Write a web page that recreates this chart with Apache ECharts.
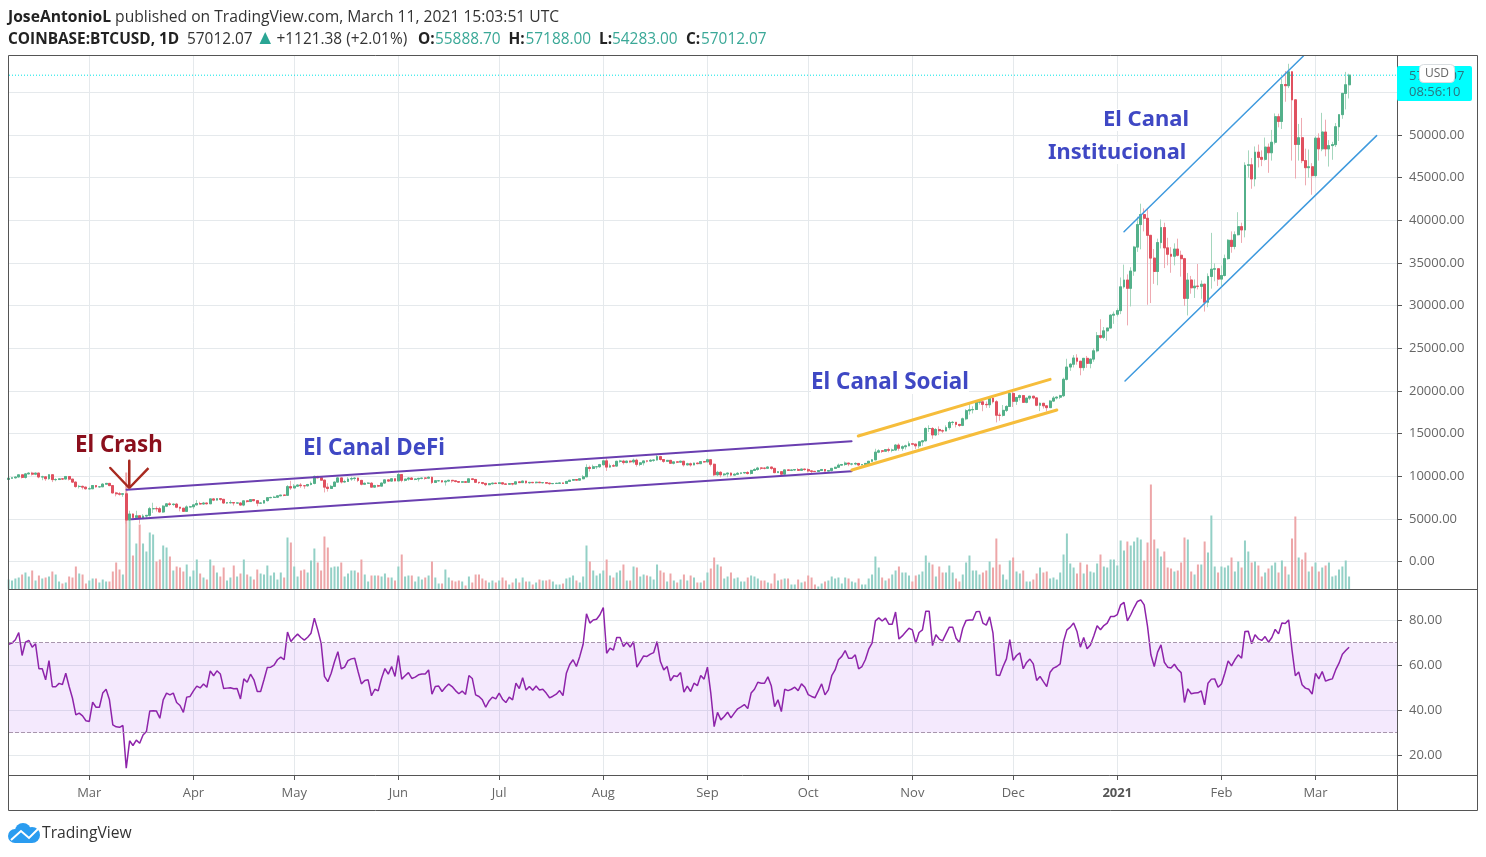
<!DOCTYPE html>
<html>
<head>
<meta charset="utf-8">
<title>COINBASE:BTCUSD</title>
<style>
  html, body { margin: 0; padding: 0; background: #fff; }
  #chart { width: 1486px; height: 857px; }
</style>
<script src="https://cdn.jsdelivr.net/npm/echarts@6/dist/echarts.min.js"></script>
</head>
<body>
<div id="chart"></div>
<script>
// days are counted from 1 Mar 2020, first candle is 6 Feb 2020
const firstDay = -24;
const firstOpen = 9620;

const closes = [
  9770,9810,9910,10160,9860,10270,10360,10240,10370,9910,9930,9710,10170,9600,9610,9690,9670,9970,9660,9310,8790,8810,8720,8530,
  8530,8910,8760,8760,9070,9160,8900,8040,7940,7890,7940,4860,5570,5170,5360,5040,5330,5410,6190,6200,6190,5810,6490,6760,6680,6730,6370,6250,5880,6400,6420,
  6640,6800,6740,6860,6770,7340,7200,7370,7290,6860,6890,6910,6860,6860,6620,7110,7030,7260,7130,6840,6850,7140,7480,7510,7540,7700,7790,7760,8780,8620,
  8830,8970,8890,8880,9030,9160,9980,9810,9540,8720,8560,8810,9310,9800,9320,9380,9670,9730,9780,9510,9060,9170,9180,8720,8900,8840,9200,9570,9430,9700,9450,
  10200,9520,9660,9790,9620,9670,9750,9780,9770,9880,9270,9470,9470,9330,9430,9520,9460,9380,9300,9350,9290,9690,9620,9290,9250,9160,9010,9120,9190,9140,
  9230,9090,9060,9130,9080,9340,9250,9430,9230,9280,9240,9300,9240,9250,9190,9130,9150,9170,9210,9160,9390,9530,9610,9540,9700,9930,11030,10910,11110,11110,11350,
  11800,11070,11230,11190,11750,11770,11600,11770,11680,11880,11390,11570,11790,11770,11870,11900,12300,11960,11750,11860,11520,11680,11650,11760,11330,11460,11320,11540,11470,11710,11680,
  11930,11400,10170,10460,10170,10260,10370,10130,10230,10340,10390,10440,10320,10680,10790,10960,10940,10930,11080,10920,10420,10530,10240,10740,10690,10730,10780,10690,10840,10780,
  10620,10570,10550,10670,10790,10600,10670,10920,11050,11300,11370,11540,11430,11430,11500,11320,11360,11500,11750,11920,12820,12980,12930,13120,13040,13070,13650,13280,13460,13560,13800,
  13760,13560,14030,14150,15590,15590,14840,15480,15330,15300,15700,16300,16320,16070,15960,16730,17680,17790,17820,18680,18720,18420,18380,19160,18730,17150,17140,17720,18180,19700,
  18780,19230,19450,18660,19160,19380,19180,18320,18550,18250,18040,18810,19170,19270,19440,21360,22800,23130,23860,23480,22730,23820,23230,23730,24700,26480,26280,27040,27370,28880,28990,
  29410,32200,33000,32030,34050,36860,39500,40670,40240,38240,35570,34000,37390,39150,36770,36020,35790,36630,35900,35500,30850,33000,32090,32280,32260,32510,30400,33420,34270,34320,33110,
  33530,35510,37660,36930,38310,39260,38870,46450,46510,44850,47990,47380,47150,48580,47920,49150,52150,51590,55920,55780,57410,54120,48890,49680,47000,46170,46280,45240,
  49630,48380,50350,48370,48760,48870,50970,52390,54880,55890,57012
];

const highs = [
  9860,9870,9950,10170,10190,10380,10480,10520,10400,10390,10060,9990,10250,10200,9760,9740,9720,10000,10000,9670,9370,8980,8900,8780,
  8770,8950,8920,8840,9180,9170,9190,8900,8170,8140,7980,7960,5960,5640,5950,5370,5550,5450,6400,6890,6450,6400,6610,6850,6960,6790,6870,6270,6280,6590,6530,
  6680,7200,7000,6990,6880,7370,7450,7390,7380,7300,6950,7180,6930,6980,6940,7170,7150,7290,7270,7200,6950,7150,7480,7590,7700,7720,7790,7810,8960,9460,
  9070,9010,9200,8960,9100,9390,10070,10040,9920,9580,9180,8980,9400,9940,9850,9590,9890,9950,9900,9840,9570,9270,9310,9310,8990,9010,9230,9620,9600,9750,9720,
  10380,10230,9690,9880,9860,9730,9800,9800,9880,10000,9960,9560,9490,9490,9490,9580,9540,9480,9400,9400,9420,9780,9720,9680,9320,9300,9200,9190,9230,9200,
  9290,9270,9130,9190,9140,9360,9380,9470,9450,9310,9300,9350,9340,9280,9270,9210,9190,9220,9240,9230,9420,9550,9660,9640,9720,10130,11400,11240,11350,11180,11450,
  11870,12100,11480,11420,11800,11920,11920,11830,11840,12060,12050,11620,11790,11860,12000,11940,12490,12400,12020,11890,11890,11700,11720,11820,11780,11580,11600,11590,11580,11730,11780,
  12050,11950,11480,10630,10580,10350,10410,10440,10350,10490,10410,10490,10580,10750,10940,11100,11040,11040,11180,11050,10980,10570,10530,10760,10760,10780,10800,10950,10860,10850,
  10920,10670,10600,10700,10800,10800,10690,10960,11100,11490,11440,11720,11560,11550,11630,11540,11400,11500,11790,12010,13220,13160,13030,13170,13350,13240,13780,13850,13620,13700,14090,
  13860,13830,14070,14250,15730,15970,15760,15650,15840,15480,15960,16480,16480,16320,16140,16880,17860,18480,18190,18800,18960,18740,18760,19410,19480,18910,17450,18350,18320,19860,
  19920,19310,19570,19530,19180,19420,19420,19290,18640,18560,18280,18940,19400,19350,19550,21560,23770,23280,24200,24300,23420,23830,24100,23780,25000,26900,28400,27490,27400,28990,29310,
  29680,33300,34810,33660,34500,37000,40420,41950,41400,41420,38200,36630,37850,40100,39720,37950,36850,37300,37850,36440,35600,33830,33480,33070,34880,32950,32560,33780,38530,34950,34350,
  34700,35980,37790,38700,38700,40950,39720,46800,48200,47300,48660,48880,48200,49700,49000,50600,52530,52500,56600,57500,58350,57500,54200,51300,52000,48400,48300,46700,
  49840,50200,52600,51800,49400,49200,51400,52400,54900,57400,57188
];

const lows = [
  9530,9720,9730,9870,9740,9720,10240,10080,10120,9760,9530,9460,9580,9310,9410,9580,9560,9660,9500,9210,8650,8560,8450,8430,
  8410,8510,8660,8640,8750,9000,8840,8000,7640,7730,7590,4440,3860,5060,5100,4440,5000,5010,5260,5700,5860,5770,5690,6380,6530,6530,6250,5880,5860,5860,6340,
  6160,6590,6670,6670,6690,6770,7080,7160,7120,6760,6770,6790,6560,6820,6600,6480,6900,7020,7080,6480,6780,6800,7030,7430,7460,7500,7680,7650,7720,8390,
  8620,8750,8640,8530,8770,8930,9050,9770,9520,8100,8200,8530,8800,9280,9150,9260,9350,9460,9470,9310,8930,9100,9080,8720,8630,8700,8830,9110,9340,9370,9400,
  9420,9290,9390,9470,9580,9530,9380,9640,9580,9730,9090,9240,9390,9250,8900,9370,9240,9280,9210,9200,9270,9280,9530,9200,9090,9040,8840,8950,9030,9090,
  9130,9050,9050,9050,8920,9070,9220,9240,9140,9120,9190,9150,9200,9160,9140,9000,9090,9130,9130,9140,9150,9340,9480,9480,9520,9650,9910,10550,10820,10830,10980,
  11220,10620,11000,11090,11140,11580,11370,11530,11530,11500,11130,11180,11260,11620,11670,11690,11840,11830,11570,11680,11480,11380,11530,11590,11130,11270,11130,11300,11410,11460,11580,
  11620,11150,10010,10000,9870,10020,9880,9980,10130,10200,10230,10290,10200,10200,10640,10650,10740,10800,10900,10760,10360,10380,10130,10200,10610,10600,10630,10640,10650,10660,
  10440,10370,10500,10540,10640,10550,10570,10560,10840,11020,11280,11220,11180,11270,11290,11210,11300,11340,11410,11680,11890,12700,12720,12890,12800,12800,13050,12990,12980,13130,13530,
  13630,13200,13260,13550,14090,15180,14390,14700,14820,15080,15280,15450,15980,15720,15790,15870,16560,17220,17360,17750,18400,17620,18010,18000,18530,16310,16510,17000,17530,18180,
  18120,18360,18880,18610,18550,18930,19030,18200,17630,17930,17600,18010,18720,19000,19050,19280,21230,22350,22750,23070,21830,22370,22700,22650,23420,24520,26100,26080,25880,27340,27860,
  28730,29000,32000,27680,29900,33500,36300,36600,38700,30100,30300,32550,32390,36700,34400,34720,33850,34720,35770,33400,29970,28850,31400,30900,31900,30800,29300,29810,31990,32850,32300,
  32300,33420,35380,36200,36600,38220,37350,38000,45000,43700,43980,46200,46350,47000,45570,47000,48900,50900,50700,53900,55500,47000,44900,47000,46700,44100,45000,43000,
  45000,47000,48100,47500,46300,47100,48600,49300,51900,53000,54283
];

const volumes = [
  10,9,11,12,15,17,13,19,9,14,11,12,13,18,15,8,6,7,13,12,23,16,15,6,9,
  11,11,7,10,8,8,18,27,20,15,117,69,34,46,65,46,38,57,55,28,30,44,42,33,19,23,22,18,25,13,19,
  30,16,12,10,30,24,17,13,22,9,12,24,13,16,30,15,13,10,20,16,15,24,14,17,10,17,12,52,47,23,
  13,19,20,17,29,41,27,19,53,42,22,23,23,27,13,16,19,19,17,30,15,8,14,14,14,13,16,12,12,9,23,
  35,13,14,14,8,13,10,12,14,28,12,6,6,20,12,9,8,9,8,4,13,7,15,15,11,9,7,9,7,9,
  12,9,5,7,11,7,12,8,8,5,7,10,9,9,10,8,5,5,6,11,12,14,9,7,13,44,28,19,14,16,19,
  30,14,12,17,19,25,9,9,23,22,13,15,14,13,10,25,19,17,8,16,9,7,10,15,9,14,12,7,7,9,17,
  21,32,25,23,11,13,17,11,12,8,8,12,14,13,11,9,9,7,6,16,9,10,11,11,5,5,10,7,8,14,
  12,5,3,6,8,9,13,11,12,6,12,11,8,7,11,5,5,11,15,33,22,12,9,11,15,19,23,17,17,14,8,
  14,15,18,34,27,25,13,23,17,17,24,17,11,8,15,27,34,19,19,15,17,19,28,22,51,25,15,10,29,32,
  18,16,19,8,8,10,16,22,17,18,11,12,10,17,35,56,26,22,16,27,16,25,18,17,26,35,23,22,30,30,24,
  49,39,48,44,48,52,50,29,47,105,50,41,33,38,22,21,18,19,27,52,50,18,15,25,25,48,37,74,23,17,23,
  22,24,32,18,28,22,49,38,27,28,24,13,17,21,24,27,17,29,23,15,51,73,32,30,37,18,23,27,
  18,22,24,27,13,14,20,23,29,13
];

const rsiValues = [
  69.3,69.8,71.3,74.5,64.3,70.2,71,68,69.5,58.4,58.4,53.5,62,50.4,50.4,51.9,51.4,56.4,50.5,45.3,37.9,38.7,37.5,35.3,
  35,43.6,41.3,41.3,47.6,49.3,44.6,33.5,32.6,32.4,33.2,14.2,26.4,24.3,26.7,25.3,29,30.5,39.6,39.7,39.6,36.4,44.6,47.6,46.8,47.6,43.4,42.1,39,45.8,46.1,
  48.6,50.7,49.9,51.6,50.2,57.5,55.3,57.5,56.1,49.6,49.8,50,49.5,49.6,45,53.9,52.4,56,53.5,48.3,48.3,53.5,59,59.1,60,62.4,63.6,62.4,74.7,70.5,
  72.3,73.8,72.3,71.1,72.4,74.2,80.9,75.7,69.8,55,52.7,56.4,61.6,66,58.4,59.1,62,62.8,63.1,57.2,51.7,53.2,53.5,46.4,49.3,48.6,54.2,58.5,56,59.4,55,
  64.3,53.8,55.3,56.7,54.1,54.7,55.7,56.1,56.1,57.9,47.1,50.5,50.7,48.3,50.2,51.6,50.5,48.7,47.3,48.5,47,55.4,54.1,46.8,46.1,44.6,41.3,44.1,45.8,45,
  47.6,44.9,43.4,45.8,44.6,52,49.6,54.4,49,50.5,48.9,50.7,49,49.3,47.6,45.5,46.2,47.1,48.7,46.5,56.4,60.3,62.4,59.4,63.9,69.3,82.8,78.7,80.1,80.4,82.4,
  85.6,65.3,67.6,66.7,72.3,72.3,68.3,70.2,68,70.5,59.1,61.6,64.1,63.9,64.9,65.6,70.5,61.6,57.9,59.4,53,55.3,55,56.7,48,50.7,48.3,52,50.9,55.4,53.8,
  59.1,47.6,32.7,39,35.7,37.2,39.1,36.6,38.7,40.6,41.5,42.5,40.7,47.6,49.3,52.4,52,52,54.8,50.9,41.6,44.6,39.4,49.3,48.7,49.3,50.2,48.7,51.7,50.2,
  46.9,46.1,45.5,48.6,51.7,46.8,49,55.3,57.9,62.4,63.9,66.5,63.1,63.1,64.6,58.4,59.4,62.4,67.1,69.8,79.7,81,79.6,80.9,78.2,78.2,83.6,71.6,73,74.7,76.4,
  75.7,69.8,74.5,75.7,84,84,68.7,73.5,71.6,70.8,73.9,76.9,76.9,72,70.1,76.4,79.9,80.1,80.1,83.7,83.9,78.7,77.8,81.5,74.2,55.6,55.4,59.4,62.8,71.3,
  62.1,64.3,65.5,58.4,61.2,62.7,60.6,53.2,55,52.7,50.5,56.9,58.7,59.4,60.6,70.5,75.7,76.9,78.7,75,68,72.3,67.3,69,73,77.5,75.7,77.6,78.7,81.6,81.6,
  82.5,86.8,87.9,79.7,82.4,85.6,88.3,89,86.8,77.2,64.6,59.4,65.8,69,61.3,59.1,58.7,60.4,58.2,56.7,43.4,49.5,47.3,47.6,47.7,48.6,42.4,52,53.8,53.9,50.2,
  51.6,56.4,61.9,59.7,62.4,64.6,63.1,75,75.1,69.5,73.5,71.7,71,72.7,70.2,72.3,75.9,73.9,78.7,78.5,80.1,66.8,55.3,57,51.3,49.8,49.3,47.1,
  56.4,53.9,57.2,52.9,53.5,53.9,57.9,60.9,64.9,66.5,68
];

const monthDays = [0, 31, 61, 92, 122, 153, 184, 214, 245, 275, 306, 337, 365];
const monthLabels = ['Mar', 'Apr', 'May', 'Jun', 'Jul', 'Aug', 'Sep', 'Oct', 'Nov', 'Dec', '2021', 'Feb', 'Mar'];

const priceTicks = [0, 5000, 10000, 15000, 20000, 25000, 30000, 35000, 40000, 45000, 50000, 55000];
const priceLabels = [0, 5000, 10000, 15000, 20000, 25000, 30000, 35000, 40000, 45000, 50000];
const rsiTicks = [20, 40, 60, 80];
const rsiBands = [30, 70];
const lastPrice = 57012.07;
const lastPriceLine = [[-23.9, lastPrice], [389.26, lastPrice]];

// hand drawn trend lines, [day, price]
const defiTop = [[11.1, 8417], [226.9, 14091]];
const defiBottom = [[12.6, 4947], [226.9, 10575]];
const socialTop = [[228.9, 14713], [286, 21360]];
const socialBottom = [[227, 10727], [288, 17761]];
const instTop = [[308, 38664], [361.4, 59260]];
const instBottom = [[308.3, 21160], [383.2, 49930]];
const crashArrow = [[6.25, 10962], [11.9, 8618], [17.6, 10962], [11.9, 8618], [11.9, 11818]];

const GREEN = '#53b08a';
const RED = '#e0505f';
const TEAL = '#3aa897';
const GRID = '#e5e9ec';
const FRAME = '#555555';
const FONT = '"Open Sans", "Noto Sans", sans-serif';
const NOTE_FONT = '"Noto Sans", sans-serif';

const chart = echarts.init(document.getElementById('chart'), null, { renderer: 'canvas' });

const dayOf = (i) => firstDay + i;
const opens = closes.map((c, i) => (i === 0 ? firstOpen : closes[i - 1]));
const wickData = closes.map((c, i) => [dayOf(i), opens[i], c, lows[i], highs[i]]);
const bodyData = closes.map((c, i) => [dayOf(i), opens[i], c, Math.min(opens[i], c), Math.max(opens[i], c)]);
const volumeData = volumes.map((v, i) => ({
  value: [dayOf(i), v],
  itemStyle: { color: closes[i] >= opens[i] ? '#93d0c6' : '#eda6a8' }
}));
const rsiData = rsiValues.map((v, i) => [dayOf(i), v]);

function trendLine(data, color, width) {
  return {
    type: 'line', data, xAxisIndex: 0, yAxisIndex: 0, symbol: 'none', silent: true,
    z: 6, clip: true, lineStyle: { color, width, cap: 'round' }
  };
}

function note(text, x, y, color, size) {
  return {
    type: 'text', x, y, z: 20, silent: true,
    style: {
      text, fill: color, font: 'bold ' + size + 'px ' + NOTE_FONT,
      textVerticalAlign: 'middle', backgroundColor: '#fff'
    }
  };
}

function frameLine(x1, y1, x2, y2) {
  return {
    type: 'line', z: 30, silent: true,
    shape: { x1, y1, x2, y2 },
    style: { stroke: FRAME, lineWidth: 1 }
  };
}

function headText(text, x, y, fill, weight) {
  return {
    type: 'text', x, y, silent: true,
    style: { text, fill, font: (weight || 'normal') + ' 15.4px ' + FONT, textVerticalAlign: 'middle' }
  };
}

const monthAxisBase = {
  type: 'value', min: -23.9, max: 389.26, scale: true,
  axisLine: { show: false },
  splitLine: { show: true, lineStyle: { color: GRID, width: 1 } }
};

const option = {
  animation: false,
  backgroundColor: '#fff',
  textStyle: { fontFamily: FONT },
  grid: [
    { left: 9, top: 55, width: 1388, height: 534.5 },
    { left: 9, top: 590, width: 1388, height: 185 }
  ],
  xAxis: [
    Object.assign({}, monthAxisBase, {
      gridIndex: 0,
      axisTick: { show: false, customValues: monthDays },
      axisLabel: { show: false, customValues: monthDays }
    }),
    Object.assign({}, monthAxisBase, {
      gridIndex: 1,
      axisTick: { show: true, length: 5, inside: false, customValues: monthDays, lineStyle: { color: FRAME } },
      axisLabel: {
        show: true, customValues: monthDays, margin: 12, color: '#666', fontSize: 13, fontFamily: FONT,
        formatter: (v) => {
          const label = monthLabels[monthDays.indexOf(v)];
          return label === '2021' ? '{b|2021}' : label;
        },
        rich: { b: { fontWeight: 'bold', fontSize: 13, color: '#555', fontFamily: FONT } }
      }
    })
  ],
  yAxis: [
    {
      type: 'value', gridIndex: 0, position: 'right', min: -3280, max: 59380,
      axisLine: { show: false, onZero: false },
      axisTick: { show: true, length: 5, customValues: priceTicks, lineStyle: { color: FRAME } },
      axisLabel: {
        customValues: priceLabels, margin: 12, color: '#666', fontSize: 13, fontFamily: FONT, padding: [2, 0, 0, 0],
        formatter: (v) => v.toFixed(2)
      },
      splitLine: { show: true, lineStyle: { color: GRID, width: 1 } }
    },
    {
      type: 'value', gridIndex: 0, min: 0, max: 534.5, show: false, splitLine: { show: false }
    },
    {
      type: 'value', gridIndex: 1, position: 'right', min: 11.2, max: 93.4,
      axisLine: { show: false, onZero: false },
      axisTick: { show: true, length: 5, customValues: rsiTicks, lineStyle: { color: FRAME } },
      axisLabel: {
        customValues: rsiTicks, margin: 12, color: '#666', fontSize: 13, fontFamily: FONT, padding: [2, 0, 0, 0],
        formatter: (v) => v.toFixed(2)
      },
      splitLine: { show: true, lineStyle: { color: GRID, width: 1 } }
    }
  ],
  series: [
    {
      type: 'bar', data: volumeData, xAxisIndex: 0, yAxisIndex: 1, barWidth: 2, z: 1, silent: true
    },
    {
      type: 'candlestick', data: wickData, xAxisIndex: 0, yAxisIndex: 0, barWidth: 2.4, z: 2, silent: true,
      encode: { x: 0, y: [1, 2, 3, 4] },
      itemStyle: { color: '#a5d6bd', color0: '#eeaab1', borderColor: '#a5d6bd', borderColor0: '#eeaab1', borderWidth: 1 }
    },
    {
      type: 'candlestick', data: bodyData, xAxisIndex: 0, yAxisIndex: 0, barWidth: 2.4, z: 3, silent: true,
      encode: { x: 0, y: [1, 2, 3, 4] },
      itemStyle: { color: GREEN, color0: RED, borderColor: GREEN, borderColor0: RED, borderWidth: 1 }
    },
    {
      type: 'line', data: lastPriceLine, xAxisIndex: 0, yAxisIndex: 0, symbol: 'none', silent: true, z: 2,
      lineStyle: { color: '#00e5e5', type: [1, 2], width: 1 }
    },
    trendLine(defiTop, '#6a3fb0', 2),
    trendLine(defiBottom, '#6a3fb0', 2),
    trendLine(socialTop, '#f6bd3b', 3),
    trendLine(socialBottom, '#f6bd3b', 3),
    trendLine(instTop, '#3f9ade', 1.5),
    trendLine(instBottom, '#3f9ade', 1.5),
    trendLine(crashArrow, '#a82a20', 2.5),
    {
      type: 'line', data: rsiData, xAxisIndex: 1, yAxisIndex: 2, symbol: 'none', silent: true, z: 4,
      lineStyle: { color: '#8e24aa', width: 1.5 },
      markArea: {
        silent: true,
        itemStyle: { color: 'rgba(153,51,240,0.11)' },
        data: [[{ yAxis: rsiBands[1] }, { yAxis: rsiBands[0] }]]
      },
      markLine: {
        silent: true, symbol: 'none', label: { show: false },
        lineStyle: { color: '#a896ad', type: 'dashed', width: 1 },
        data: rsiBands.map((b) => ({ yAxis: b }))
      }
    }
  ],
  graphic: [
    // header lines
    {
      type: 'text', x: 8, y: 17.5, silent: true,
      style: {
        text: '{b|JoseAntonioL} published on TradingView.com, March 11, 2021 15:03:51 UTC',
        font: '15.65px ' + FONT, fill: '#333', textVerticalAlign: 'middle',
        rich: { b: { font: 'bold 15.65px ' + FONT, fill: '#222' } }
      }
    },
    headText('COINBASE:BTCUSD, 1D', 8, 39.5, '#222', 'bold'),
    headText('57012.07', 187, 39.5, '#333'),
    { type: 'polygon', silent: true, shape: { points: [[259.5, 44], [271, 44], [265.2, 32]] }, style: { fill: '#2aa594' } },
    headText('+1121.38 (+2.01%)', 276.5, 39.5, '#333'),
    headText('O:', 418, 39.5, '#222', 'bold'),
    headText('55888.70', 435, 39.5, TEAL),
    headText('H:', 508.5, 39.5, '#222', 'bold'),
    headText('57188.00', 525.5, 39.5, TEAL),
    headText('L:', 599, 39.5, '#222', 'bold'),
    headText('54283.00', 612, 39.5, TEAL),
    headText('C:', 686, 39.5, '#222', 'bold'),
    headText('57012.07', 701, 39.5, TEAL),
    // annotations
    note('El Crash', 75, 446, '#8b0f1c', 22.3),
    note('El Canal DeFi', 303, 449, '#3f48c4', 22.4),
    note('El Canal Social', 811, 383, '#3f48c4', 22.4),
    note('El Canal', 1103, 120, '#3f48c4', 22),
    note('Institucional', 1048, 153, '#3f48c4', 21.8),
    // frame of the panes
    { type: 'rect', z: 30, silent: true, shape: { x: 8.5, y: 55.5, width: 1469, height: 755 }, style: { fill: 'none', stroke: FRAME, lineWidth: 1 } },
    frameLine(8, 589.5, 1477, 589.5),
    frameLine(8, 775.5, 1477, 775.5),
    frameLine(1397.5, 55, 1397.5, 810),
    // last price box
    {
      type: 'rect', z: 31, silent: true,
      shape: { x: 1397, y: 66, width: 75, height: 35, r: 2 },
      style: { fill: '#00ffff' }
    },
    {
      type: 'text', z: 32, x: 1409, y: 76, silent: true,
      style: { text: '57012.07', font: '13px ' + FONT, fill: '#2a7580', textVerticalAlign: 'middle' }
    },
    {
      type: 'text', z: 32, x: 1409, y: 92.5, silent: true,
      style: { text: '08:56:10', font: '13px ' + FONT, fill: '#2a7580', textVerticalAlign: 'middle' }
    },
    {
      type: 'rect', z: 33, silent: true,
      shape: { x: 1419.5, y: 64.5, width: 35, height: 18, r: 4 },
      style: { fill: '#fff', stroke: '#d8dde0', lineWidth: 1 }
    },
    {
      type: 'text', z: 34, x: 1437, y: 73.5, silent: true,
      style: { text: 'USD', font: '12px ' + FONT, fill: '#666', textAlign: 'center', textVerticalAlign: 'middle' }
    },
    // TradingView logo
    { type: 'circle', silent: true, shape: { cx: 15, cy: 836, r: 7 }, style: { fill: '#2a9cf0' } },
    { type: 'circle', silent: true, shape: { cx: 23, cy: 831, r: 8 }, style: { fill: '#2a9cf0' } },
    { type: 'circle', silent: true, shape: { cx: 32, cy: 835, r: 8 }, style: { fill: '#2a9cf0' } },
    { type: 'rect', silent: true, shape: { x: 15, y: 834, width: 17, height: 9 }, style: { fill: '#2a9cf0' } },
    {
      type: 'polyline', z: 2, silent: true,
      shape: { points: [[11, 840], [21, 831], [29, 838], [39, 828]] },
      style: { stroke: '#fff', fill: 'none', lineWidth: 2 }
    },
    {
      type: 'text', x: 42, y: 834, silent: true,
      style: { text: 'TradingView', font: '15.7px ' + FONT, fill: '#333', textVerticalAlign: 'middle' }
    }
  ]
};

chart.setOption(option);
</script>
</body>
</html>
